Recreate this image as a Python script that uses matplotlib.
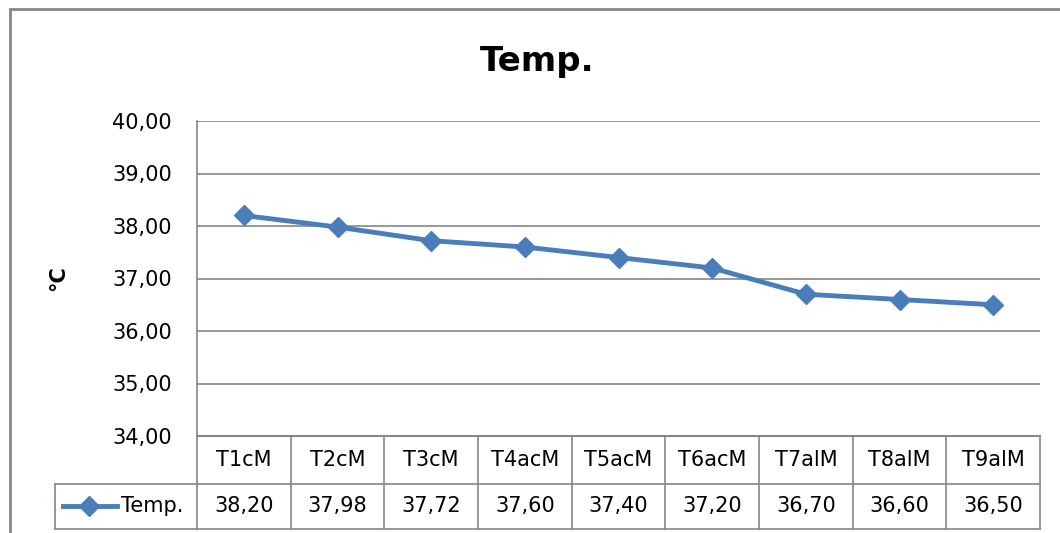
import numpy as np
import matplotlib.pyplot as plt
from matplotlib.lines import Line2D
from matplotlib.patches import Rectangle
import matplotlib.transforms as mtransforms

categories = ['T1cM', 'T2cM', 'T3cM', 'T4acM', 'T5acM', 'T6acM', 'T7alM', 'T8alM', 'T9alM']
temp = [38.20, 37.98, 37.72, 37.60, 37.40, 37.20, 36.70, 36.60, 36.50]
y_ticks = [34, 35, 36, 37, 38, 39, 40]
series_name = 'Temp.'

blue = '#4A7EBB'
grey = '#868686'
W, H = 1060, 533


def fmt(v):
    return f"{v:.2f}".replace('.', ',')


fig = plt.figure(figsize=(W / 100, H / 100), dpi=100)
ax = fig.add_axes([197 / W, 1 - 436 / H, (1040 - 197) / W, (436 - 121) / H])

x = np.arange(len(categories))
ax.plot(x, temp, color=blue, lw=3.5, marker='D', ms=10, solid_joinstyle='round')
ax.set_xlim(-0.5, len(categories) - 0.5)
ax.set_ylim(y_ticks[0], y_ticks[-1])
ax.set_yticks(y_ticks)
ax.set_yticklabels([fmt(v) for v in y_ticks], fontsize=15)
ax.tick_params(axis='y', length=0, pad=18)
ax.set_xticks([])
ax.grid(axis='y', color=grey, lw=1.2)
ax.set_axisbelow(True)
for s in ['top', 'right']:
    ax.spines[s].set_visible(False)
ax.spines['left'].set_color(grey)
ax.spines['bottom'].set_color(grey)
ax.spines['left'].set_linewidth(1.2)
ax.spines['bottom'].set_linewidth(1.5)

fig.text(58 / W, 1 - 278 / H, '°C', fontsize=15, fontweight='bold', rotation=90,
         ha='center', va='center')
fig.text(537 / W, 1 - 62 / H, 'Temp.', fontsize=24.5, fontweight='bold',
         ha='center', va='center')

# data table below the plot
tr = mtransforms.blended_transform_factory(ax.transData, ax.transAxes)
ah = 436 - 121
r1 = -48 / ah   # bottom of category row
r2 = -93 / ah   # bottom of value row
lkw = dict(color=grey, lw=1.2, clip_on=False)
for i in range(len(categories) + 1):
    ax.add_line(Line2D([i - 0.5, i - 0.5], [0, r2], transform=tr, **lkw))
ax.add_line(Line2D([-0.5, len(categories) - 0.5], [r1, r1], transform=tr, **lkw))
ax.add_line(Line2D([-0.5, len(categories) - 0.5], [r2, r2], transform=tr, **lkw))
for i, (c, v) in enumerate(zip(categories, temp)):
    ax.text(i, r1 / 2, c, transform=tr, ha='center', va='center', fontsize=15)
    ax.text(i, (r1 + r2) / 2, fmt(v), transform=tr, ha='center', va='center', fontsize=15)

# legend key cell
fig.add_artist(Line2D([55 / W, 197 / W], [1 - 484 / H] * 2, color=grey, lw=1.2))
fig.add_artist(Line2D([55 / W, 197 / W], [1 - 529 / H] * 2, color=grey, lw=1.2))
fig.add_artist(Line2D([55 / W, 55 / W], [1 - 484 / H, 1 - 529 / H], color=grey, lw=1.2))
ym = 1 - 506 / H
fig.add_artist(Line2D([63 / W, 117 / W], [ym, ym], color=blue, lw=3.5))
fig.add_artist(Line2D([89 / W], [ym], color=blue, marker='D', ms=10))
fig.text(121 / W, ym, series_name, fontsize=15, ha='left', va='center')

# outer chart border
fig.add_artist(Rectangle((10 / W, -0.05), 1.2, 1 - 9 / H + 0.05, transform=fig.transFigure,
                         fill=False, edgecolor=grey, lw=2, clip_on=False))

fig.savefig('out.png', dpi=100)
